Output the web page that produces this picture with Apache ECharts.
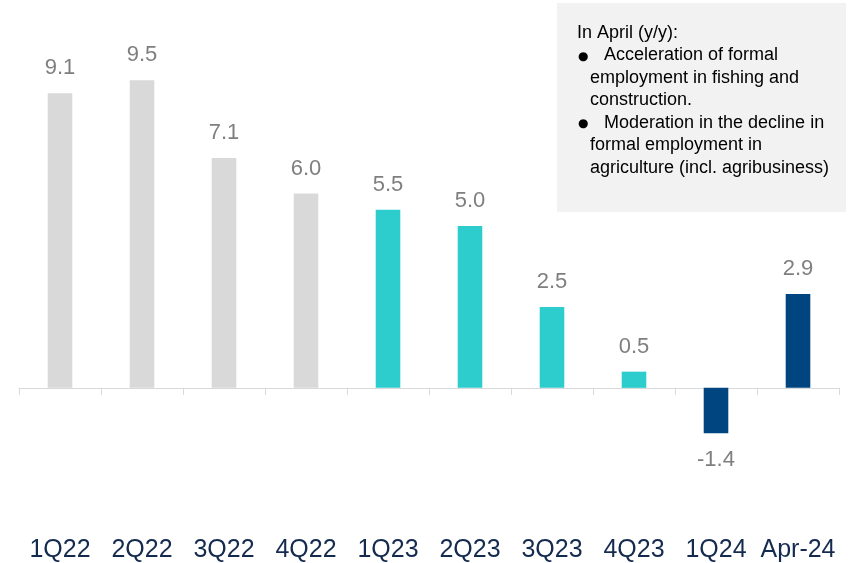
<!DOCTYPE html>
<html>
<head>
<meta charset="utf-8">
<script src="https://cdn.jsdelivr.net/npm/echarts@6/dist/echarts.min.js"></script>
<style>html,body{margin:0;padding:0;background:#fff}#c{width:848px;height:563px}</style>
</head>
<body>
<div id="c"></div>
<script>
const categories = ['1Q22','2Q22','3Q22','4Q22','1Q23','2Q23','3Q23','4Q23','1Q24','Apr-24'];
const values = [9.1, 9.5, 7.1, 6.0, 5.5, 5.0, 2.5, 0.5, -1.4, 2.9];
const groups = ['past','past','past','past','q23','q23','q23','q23','recent','recent'];
const boxLines = [
  'In April (y/y):',
  'Acceleration of formal',
  'employment in fishing and',
  'construction.',
  'Moderation in the decline in',
  'formal employment in',
  'agriculture (incl. agribusiness)'
];
const bulletRows = [1, 4];

const colorMap = {past:'#D9D9D9', q23:'#2ECDCD', recent:'#00457F'};
const font = "'Liberation Sans', Arial, sans-serif";

const chart = echarts.init(document.getElementById('c'));
const data = values.map((v, i) => ({
  value: v,
  itemStyle: {color: colorMap[groups[i]]},
  label: v < 0 ? {position: 'bottom', distance: 16} : {position: 'top', distance: 14}
}));

const graphics = [{
  type: 'rect', shape: {x: 557, y: 3, width: 289, height: 209},
  style: {fill: '#F2F2F2'}, silent: true
}];
boxLines.forEach((t, i) => {
  const y = 35 + i * 22.5;
  let x = 590;
  if (i === 0) x = 577;
  if (bulletRows.includes(i)) {
    x = 604;
    graphics.push({type: 'text', left: 578, top: y - 7,
      style: {text: '\u25CF', font: "12px 'DejaVu Sans', sans-serif", fill: '#000'}});
  }
  graphics.push({type: 'text', left: x, top: y - 11,
    style: {text: t, font: "18px " + font, fill: '#000'}});
});

chart.setOption({
  animation: false,
  grid: {left: 19, right: 9, top: 64, bottom: 78, containLabel: false, outerBoundsMode: 'none'},
  xAxis: {
    type: 'category', data: categories,
    axisLine: {onZero: true, lineStyle: {color: '#D9D9D9', width: 1}},
    axisTick: {show: true, length: 7, lineStyle: {color: '#D9D9D9'}},
    axisLabel: {interval: 0, margin: 53, fontSize: 25, fontFamily: font, color: '#142B4F', hideOverlap: false}
  },
  yAxis: {type: 'value', min: -3, max: 10, show: false, splitLine: {show: false}},
  series: [{
    type: 'bar', data: data, barWidth: '30%',
    label: {show: true, fontSize: 22, fontFamily: font, color: '#7F7F7F',
      formatter: p => p.value.toFixed(1)}
  }],
  graphic: graphics
});
</script>
</body>
</html>
